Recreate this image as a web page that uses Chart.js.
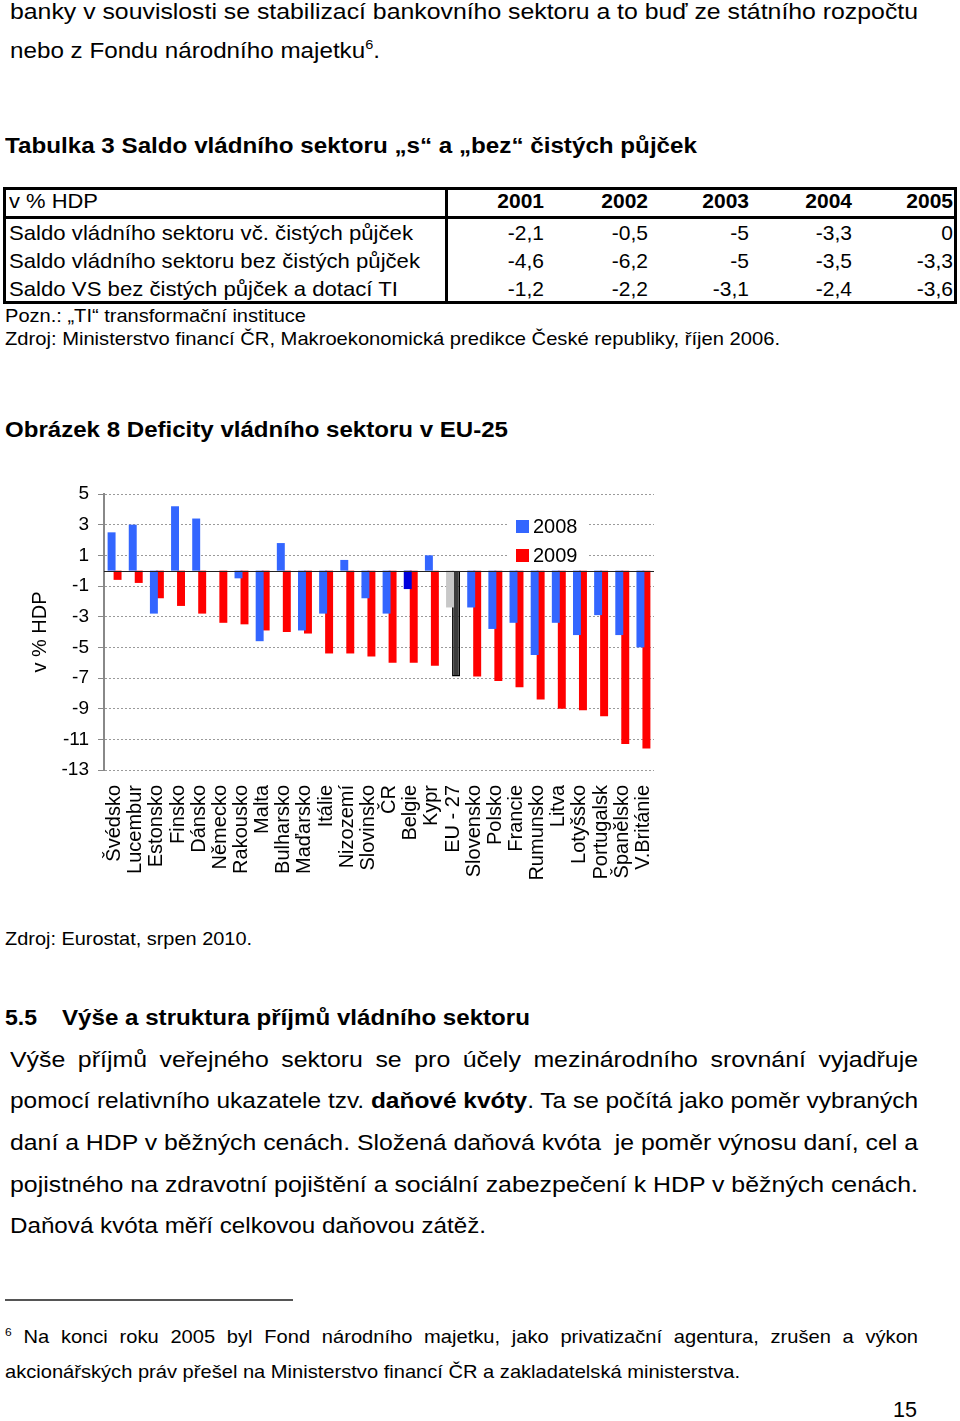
<!DOCTYPE html>
<html lang="cs">
<head>
<meta charset="utf-8">
<script src="https://cdn.jsdelivr.net/npm/chart.js@4.4.1/dist/chart.umd.min.js"></script>
<style>
html,body{margin:0;padding:0;background:#fff;}
body{width:960px;height:1421px;position:relative;overflow:hidden;font-family:"Liberation Sans",Arial,Helvetica,sans-serif;color:#000;}
.t{position:absolute;white-space:nowrap;transform-origin:0 50%;}
.s22{font-size:22px;line-height:30px;}
.s21{font-size:21px;line-height:28px;}
.s19{font-size:19px;line-height:26px;}
.b{font-weight:bold;}
sup{font-size:0.6em;line-height:0;vertical-align:0.65em;}
.bx{position:absolute;background:#000;}
#chartWrap{position:absolute;left:0;top:470px;width:700px;height:420px;}
</style>
</head>
<body>
<script>
// ---- data: table ----
const tableYears = ['2001', '2002', '2003', '2004', '2005'];
const tableRowLabels = [
  'Saldo vládního sektoru vč. čistých půjček',
  'Saldo vládního sektoru bez čistých půjček',
  'Saldo VS bez čistých půjček a dotací TI'
];
const tableRow1 = [-2.1, -0.5, -5, -3.3, 0];
const tableRow2 = [-4.6, -6.2, -5, -3.5, -3.3];
const tableRow3 = [-1.2, -2.2, -3.1, -2.4, -3.6];

// ---- data: chart ----
const categories = ['Švédsko', 'Lucembur', 'Estonsko', 'Finsko', 'Dánsko', 'Německo', 'Rakousko', 'Malta',
  'Bulharsko', 'Maďarsko', 'Itálie', 'Nizozemí', 'Slovinsko', 'ČR', 'Belgie', 'Kypr', 'EU - 27', 'Slovensko',
  'Polsko', 'Francie', 'Rumunsko', 'Litva', 'Lotyšsko', 'Portugalsk', 'Španělsko', 'V.Británie'];
const values2008 = [2.5, 3.0, -2.8, 4.2, 3.4, 0.0, -0.5, -4.6, 1.8, -3.9, -2.8, 0.7, -1.8, -2.8, -1.2, 1.0,
  -2.4, -2.4, -3.8, -3.4, -5.5, -3.4, -4.2, -2.9, -4.2, -5.0];
const values2009 = [-0.6, -0.8, -1.8, -2.3, -2.8, -3.4, -3.5, -3.9, -4.0, -4.1, -5.4, -5.4, -5.6, -6.0, -6.0, -6.2,
  -6.9, -6.9, -7.2, -7.6, -8.4, -9.0, -9.1, -9.5, -11.3, -11.6];
const seriesLabels = ['2008', '2009'];
const yTickValues = [5, 3, 1, -1, -3, -5, -7, -9, -11, -13];
const yAxisTitle = 'v % HDP';
</script>

<div class="t s22" data-m="f" data-r="918" style="left:10px;top:-3px">banky v souvislosti se stabilizací bankovního sektoru a to buď ze státního rozpočtu</div>
<div class="t s22" data-m="f" data-r="380" style="left:10px;top:36px">nebo z Fondu národního majetku<sup>6</sup>.</div>

<div class="t s22 b" data-m="f" data-r="697" style="left:5px;top:131px">Tabulka 3 Saldo vládního sektoru „s“ a „bez“ čistých půjček</div>

<div class="bx" style="left:3px;top:187px;width:954px;height:3px"></div>
<div class="bx" style="left:3px;top:301px;width:954px;height:3px"></div>
<div class="bx" style="left:3px;top:187px;width:3px;height:117px"></div>
<div class="bx" style="left:954px;top:187px;width:3px;height:117px"></div>
<div class="bx" style="left:3px;top:216px;width:954px;height:3px"></div>
<div class="bx" style="left:445px;top:187px;width:3px;height:117px"></div>
<div id="tbl"></div>

<div class="t s19" data-m="f" data-r="306" style="left:5px;top:303px">Pozn.: „TI“ transformační instituce</div>
<div class="t s19" data-m="f" data-r="780" style="left:5px;top:326px">Zdroj: Ministerstvo financí ČR, Makroekonomická predikce České republiky, říjen 2006.</div>

<div class="t s22 b" data-m="f" data-r="508" style="left:5px;top:415px">Obrázek 8 Deficity vládního sektoru v EU-25</div>

<div id="chartWrap"><canvas id="c" width="700" height="420" style="width:700px;height:420px"></canvas></div>

<div class="t s19" data-m="f" data-r="252" style="left:5px;top:926px">Zdroj: Eurostat, srpen 2010.</div>

<div class="t s22 b" data-m="f" data-r="37" style="left:5px;top:1003px">5.5</div>
<div class="t s22 b" data-m="f" data-r="530" style="left:62px;top:1003px">Výše a struktura příjmů vládního sektoru</div>

<div class="t s22" data-m="j" data-ref="p4" data-r="918" style="left:10px;top:1045px">Výše příjmů veřejného sektoru se pro účely mezinárodního srovnání vyjadřuje</div>
<div class="t s22" data-m="f" data-r="918" style="left:10px;top:1086px">pomocí relativního ukazatele tzv. <b>daňové kvóty</b>. Ta se počítá jako poměr vybraných</div>
<div class="t s22" data-m="f" data-r="918" style="left:10px;top:1128px">daní a HDP v běžných cenách. Složená daňová kvóta&nbsp; je poměr výnosu daní, cel a</div>
<div id="p4" class="t s22" data-m="f" data-r="918" style="left:10px;top:1170px">pojistného na zdravotní pojištění a sociální zabezpečení k HDP v běžných cenách.</div>
<div class="t s22" data-m="f" data-r="486" style="left:10px;top:1211px">Daňová kvóta měří celkovou daňovou zátěž.</div>

<div style="position:absolute;left:5px;top:1299px;width:288px;height:2px;background:#555"></div>

<div class="t s19" data-m="j" data-ref="f2" data-r="918" style="left:5px;top:1324px"><sup>6</sup> Na konci roku 2005 byl Fond národního majetku, jako privatizační agentura, zrušen a výkon</div>
<div id="f2" class="t s19" data-m="f" data-r="740" style="left:5px;top:1359px">akcionářských práv přešel na Ministerstvo financí ČR a zakladatelská ministerstva.</div>

<div class="t s22" data-m="f" data-r="917" style="left:893px;top:1395px">15</div>

<script>
// ---- table text ----
(function () {
  const tbl = document.getElementById('tbl');
  const colRight = [544, 648, 749, 852, 953];
  const rowCy = [233, 261, 289];
  const rows = [tableRow1, tableRow2, tableRow3];
  const labelRight = [413, 420, 398];
  function add(html, cls, style, attrs) {
    const d = document.createElement('div');
    d.className = 't s21 ' + cls;
    d.innerHTML = html;
    d.setAttribute('style', style);
    if (attrs) for (const k in attrs) d.setAttribute(k, attrs[k]);
    tbl.appendChild(d);
  }
  add('v % HDP', '', 'left:9px;top:187px', {'data-m': 'f', 'data-r': '98'});
  tableYears.forEach((y, i) => add(y, 'b', 'right:' + (960 - colRight[i]) + 'px;top:187px'));
  rows.forEach((vals, r) => {
    add(tableRowLabels[r], '', 'left:9px;top:' + (rowCy[r] - 14) + 'px', {'data-m': 'f', 'data-r': String(labelRight[r])});
    vals.forEach((v, i) => add(String(v).replace('.', ','), '', 'right:' + (960 - colRight[i]) + 'px;top:' + (rowCy[r] - 14) + 'px'));
  });
})();

// ---- fit / justify text lines ----
const scales = {};
const els = Array.from(document.querySelectorAll('[data-m]'));
els.forEach(el => {
  el._w = el.getBoundingClientRect().width;
  el._target = parseFloat(el.getAttribute('data-r')) - el.offsetLeft;
});
els.filter(el => el.getAttribute('data-m') === 'f').forEach(el => {
  const s = el._target / el._w;
  if (el.id) scales[el.id] = s;
  el.style.transform = 'scaleX(' + s + ')';
});
els.filter(el => el.getAttribute('data-m') === 'j').forEach(el => {
  const s = scales[el.getAttribute('data-ref')] || 1;
  const n = (el.textContent.match(/[ \u00A0]/g) || []).length;
  const extra = (el._target / s - el._w) / n;
  if (extra >= 0) {
    el.style.wordSpacing = extra + 'px';
    el.style.transform = 'scaleX(' + s + ')';
  } else {
    el.style.transform = 'scaleX(' + (el._target / el._w) + ')';
  }
});

// ---- chart ----
Chart.defaults.font.family = '"Liberation Sans", Arial, sans-serif';
Chart.defaults.color = '#000';

const BLUE = '#3366ff';
const RED = '#ff0000';
function color2008(ctx) {
  const c = categories[ctx.dataIndex];
  if (c === 'EU - 27') return '#c8c8c8';
  if (c === 'Belgie') return '#0000dd';
  return BLUE;
}
function color2009(ctx) {
  return categories[ctx.dataIndex] === 'EU - 27' ? '#3c3c3c' : RED;
}

const zeroLine = {
  id: 'zeroLine',
  afterDatasetsDraw(chart) {
    const {ctx, chartArea, scales} = chart;
    const y = Math.round(scales.y.getPixelForValue(0)) + 0.5;
    ctx.save();
    ctx.strokeStyle = '#222';
    ctx.lineWidth = 1;
    ctx.beginPath();
    ctx.moveTo(chartArea.left, y);
    ctx.lineTo(chartArea.right, y);
    ctx.stroke();
    ctx.restore();
  }
};

const boxLegend = {
  id: 'boxLegend',
  afterDatasetsDraw(chart) {
    const {ctx, chartArea} = chart;
    const x0 = chartArea.left + 404;
    const y0 = chartArea.top + 16;
    const cols = [BLUE, RED];
    ctx.save();
    ctx.fillStyle = '#fff';
    ctx.fillRect(x0, y0, 79, 58);
    ctx.font = '20px "Liberation Sans", Arial, sans-serif';
    ctx.textBaseline = 'middle';
    ctx.textAlign = 'left';
    chart.data.datasets.forEach((ds, i) => {
      const yy = y0 + 10 + i * 29;
      ctx.fillStyle = cols[i];
      ctx.fillRect(x0 + 8, yy, 13, 13);
      ctx.fillStyle = '#000';
      ctx.fillText(ds.label, x0 + 25, yy + 7.5);
    });
    ctx.restore();
  }
};

new Chart(document.getElementById('c'), {
  type: 'bar',
  data: {
    labels: categories,
    datasets: [
      {label: seriesLabels[0], data: values2008, backgroundColor: color2008, borderWidth: 0},
      {label: seriesLabels[1], data: values2009, backgroundColor: color2009,
        borderColor: ctx => categories[ctx.dataIndex] === 'EU - 27' ? '#000' : 'rgba(0,0,0,0)',
        borderWidth: ctx => categories[ctx.dataIndex] === 'EU - 27' ? 1.5 : 0}
    ]
  },
  options: {
    responsive: false,
    devicePixelRatio: 1,
    animation: false,
    categoryPercentage: 0.566,
    barPercentage: 1.33,
    layout: {padding: {top: 24, right: 46, left: 0, bottom: 0}},
    plugins: {legend: {display: false}, tooltip: {enabled: false}},
    scales: {
      x: {
        grid: {display: false, drawTicks: false},
        border: {display: false},
        ticks: {autoSkip: false, minRotation: 90, maxRotation: 90, padding: 15, font: {size: 20}, color: '#000'},
        afterFit: s => { s.height = 120; }
      },
      y: {
        min: -13, max: 5,
        afterBuildTicks: s => { s.ticks = yTickValues.map(v => ({value: v})); },
        ticks: {padding: 9, font: {size: 19}, color: '#000'},
        grid: {color: '#9a9a9a', lineWidth: 1, tickLength: 6, tickColor: '#888', tickWidth: 1, tickBorderDash: []},
        border: {display: true, color: '#888', width: 2, dash: [2, 2]},
        title: {display: true, text: yAxisTitle, font: {size: 20}, color: '#000', padding: {top: 28, bottom: 0}},
        afterFit: s => { s.width = 104; }
      }
    }
  },
  plugins: [zeroLine, boxLegend]
});
</script>
</body>
</html>
